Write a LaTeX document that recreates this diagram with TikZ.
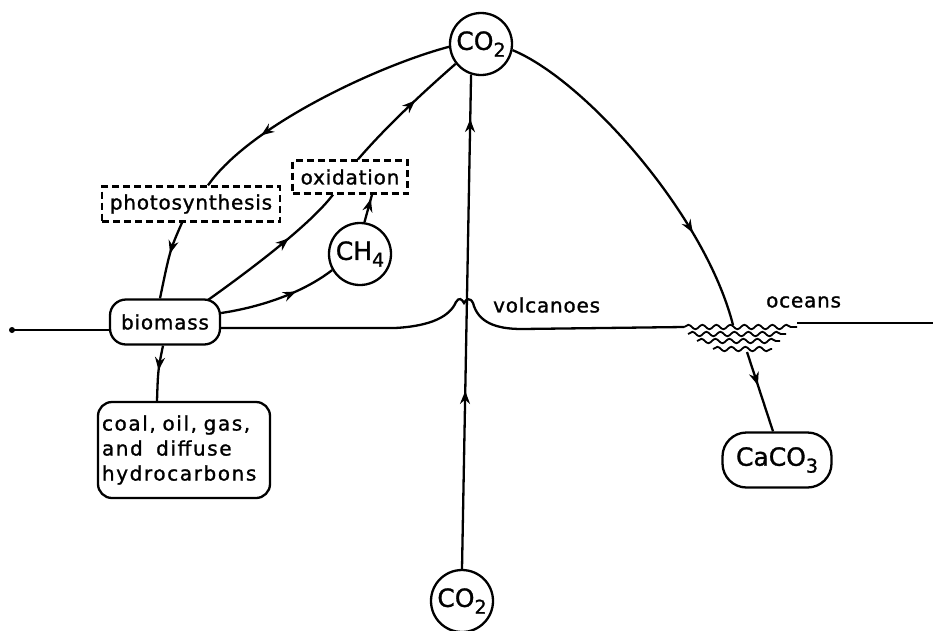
\documentclass[tikz,border=0pt]{standalone}
\usepackage{fontspec}
\setmainfont{DejaVu Sans}
\newfontfamily\lett[LetterSpace=4,FakeBold=1.2]{DejaVu Sans}
\newfontfamily\lettw[LetterSpace=8,FakeBold=1.2]{DejaVu Sans}
\newfontfamily\chemf[FakeBold=1.2]{DejaVu Sans}
\usetikzlibrary{arrows.meta,decorations.markings,decorations.pathmorphing}
\newcommand\mysub[1]{\raisebox{-0.5ex}{\fontsize{19}{19}\selectfont #1}}
\begin{document}
\begin{tikzpicture}[x=1pt,y=-1pt,line width=2.3pt,
  lbl/.style={font=\lett\fontsize{20}{25}\selectfont},
  lblw/.style={font=\lettw\fontsize{20}{25}\selectfont},
  chem/.style={font=\chemf\fontsize{25}{25}\selectfont},
  circ/.style={circle,draw,minimum size=62pt,inner sep=0pt,chem},
  dbox/.style={draw,dash pattern=on 7pt off 4pt,inner sep=0pt,lbl},
  rbox/.style={draw,inner sep=0pt},
  arr/.style={postaction={decorate},decoration={markings,mark=at position #1 with {\arrow{Stealth[length=13pt,width=10pt]}}}},
  arrtwo/.style 2 args={postaction={decorate},decoration={markings,
     mark=at position #1 with {\arrow{Stealth[length=13pt,width=10pt]}},
     mark=at position #2 with {\arrow{Stealth[length=13pt,width=10pt]}}}},
  wave/.style={line width=1.8pt,decorate,decoration={snake,segment length=14pt,amplitude=2.2pt}}]
\fill[white] (0,0) rectangle (933,630);
\useasboundingbox (0,0) rectangle (933,630);

% nodes
\node[circ] (co2top) at (481,44) {CO\mysub{2}};
\node[circ] (co2bot) at (462,601) {CO\mysub{2}};
\node[circ] (ch4) at (360,254) {CH\mysub{4}};
\node[dbox,minimum width=178pt,minimum height=35pt] (photo) at (191,204) {photosynthesis};
\node[dbox,minimum width=115pt,minimum height=33pt] (oxid) at (350,177) {oxidation};
\node[rbox,lbl,rounded corners=16pt,minimum width=110pt,minimum height=45pt] (biomass) at (165,322) {biomass};
\node[rbox,lblw,rounded corners=14pt,minimum width=172pt,minimum height=96pt,text width=164pt,align=left] (coal) at (184,450) {coal, oil, gas,\\and\ \ diffuse\\hydrocarbons};
\node[rbox,chem,rounded corners=24pt,minimum width=109pt,minimum height=55pt] (caco3) at (777,460) {CaCO\mysub{3}};
\node[lbl,anchor=west,inner sep=0pt] (volc) at (492,305) {volcanoes};
\node[lbl,anchor=west,inner sep=0pt] (ocean) at (765,302) {oceans};

% ground line
\coordinate (gl) at (12,330);
\coordinate (gr) at (933,323);
\fill (gl) circle (3);
\draw (gl) -- ([yshift=-8pt]biomass.west);
\draw ([yshift=-6pt]biomass.east) -- (395,328)
  .. controls (432,326) and (450,316) .. (456,302)
  .. controls (459,297) and (462,299) .. (464,303)
  .. controls (466,299) and (470,297) .. (473,303)
  .. controls (478,322) and (495,329) .. (522,329)
  -- (684,327);
\draw[wave] (684,327) -- (797,327);
\draw[wave] (688,334) -- (786,334);
\draw[wave] (697,341) -- (780,341);
\draw[wave] (713,349) -- (772,349);
\draw (797,323) -- (gr);

% connectors
\draw[arr=0.74] (co2top.185) .. controls (380,65) and (250,125) .. ([xshift=17pt]photo.north);
\draw[arr=0.42] ([xshift=-9pt]photo.south) .. controls (170,250) .. ([xshift=-5pt]biomass.north);
\draw[arr=0.62] ([xshift=43pt,yshift=22pt]biomass.center) .. controls (250,270) and (310,225) .. ([xshift=-17pt]oxid.south);
\draw[arr=0.6] ([xshift=8pt]oxid.north) .. controls (385,128) and (420,95) .. (co2top.218);
\draw[arr=0.65] ([yshift=9pt]biomass.east) .. controls (255,308) and (300,295) .. (ch4.210);
\draw[arr=0.85] (ch4.82) -- ([xshift=22pt]oxid.south);
\draw[arr=0.45] ([xshift=-2pt]biomass.south) .. controls (158,370) .. (coal.north -| 157,0);
\draw[arrtwo={0.36}{0.91}] (co2bot.north) -- (co2top.252);
\coordinate (oc) at (733,325);
\draw[arr=0.72] (co2top.-11) .. controls (585,80) and (705,215) .. (oc);
\coordinate (wv) at (747,352);
\draw[arr=0.42] (wv) -- ([xshift=-4pt]caco3.north);
\end{tikzpicture}
\end{document}
